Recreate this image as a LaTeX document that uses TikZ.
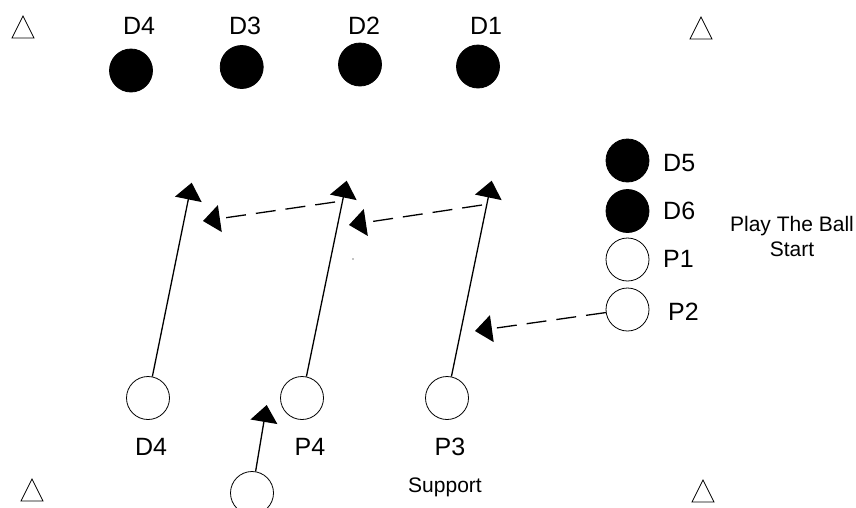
\documentclass[tikz,border=0pt]{standalone}
\usepackage{fontspec}
\setmainfont{Liberation Sans}
\usetikzlibrary{arrows.meta}

\tikzset{
    player/.style={circle, draw, line width=0.8pt, minimum size=43pt, inner sep=0pt},
    defender/.style={player, fill=black},
    run/.style={line width=1.3pt, -{Triangle[length=17pt, width=27pt]}},
    pass/.style={run, dash pattern=on 20pt off 10pt},
    lbl/.style={inner sep=0pt, font=\fontsize{25}{30}\selectfont},
    note/.style={inner sep=0pt, align=center, font=\fontsize{21}{25}\selectfont}
}

\begin{document}
\begin{tikzpicture}[x=1pt, y=-1pt]
    \useasboundingbox (0,0) rectangle (856,507);

    % Cones in the corners
    \foreach \cx/\cy in {23/27, 701/28, 32/490, 703/491}
        \draw[line width=0.8pt] (\cx-11,\cy+11) -- (\cx,\cy-11) -- (\cx+11,\cy+11) -- cycle;

    % Defensive line
    \foreach \nm/\px/\py/\lx in {D4/131/70.5/139, D3/241.7/67/245, D2/360/64.5/364, D1/478/66.5/486} {
        \node[defender] (top\nm) at (\px,\py) {};
        \node[lbl] (lbl\nm) at (\lx,26) {\nm};
    }

    % Play the ball group
    \node[defender] (d5) at (627.5,160.5) {};
    \node[defender] (d6) at (627.5,211) {};
    \node[player] (p1) at (627.5,259.5) {};
    \node[player] (p2) at (627.5,309.5) {};
    \node[lbl, anchor=west] (lbld5) at (663,163) {D5};
    \node[lbl, anchor=west] (lbld6) at (663,211) {D6};
    \node[lbl, anchor=west] (lblp1) at (663,259) {P1};
    \node[lbl, anchor=west] (lblp2) at (668,312) {P2};
    \node[note] (start) at (792,236) {Play The Ball\\Start};

    % Attacking line
    \node[player] (d4) at (148,398) {};
    \node[player] (p4) at (302,398) {};
    \node[player] (p3) at (447,398) {};
    \node[player] (sup) at (252,493) {};
    \node[lbl] (lbld4) at (151,447) {D4};
    \node[lbl] (lblp4) at (310,447) {P4};
    \node[lbl] (lblp3) at (450,447) {P3};
    \node[note] (lblsup) at (445,487) {Support};

    % Runs
    \coordinate (runA) at (191.7,182.7);
    \coordinate (runB) at (346.7,180.7);
    \coordinate (runC) at (491.7,180.7);
    \coordinate (runS) at (266.7,405);
    \draw[run] (d4) -- (runA);
    \draw[run] (p4) -- (runB);
    \draw[run] (p3) -- (runC);
    \draw[run] (sup) -- (runS);

    % Passes
    \coordinate (fromB) at (335,202);
    \coordinate (fromC) at (482,205);
    \coordinate (toA) at (203,221);
    \coordinate (toB) at (349,225);
    \coordinate (toC) at (475,331);
    \draw[pass] (fromB) -- (toA);
    \draw[pass] (fromC) -- (toB);
    \draw[pass] (p2) -- (toC);

    \fill (353,259) circle (0.7);
\end{tikzpicture}
\end{document}
